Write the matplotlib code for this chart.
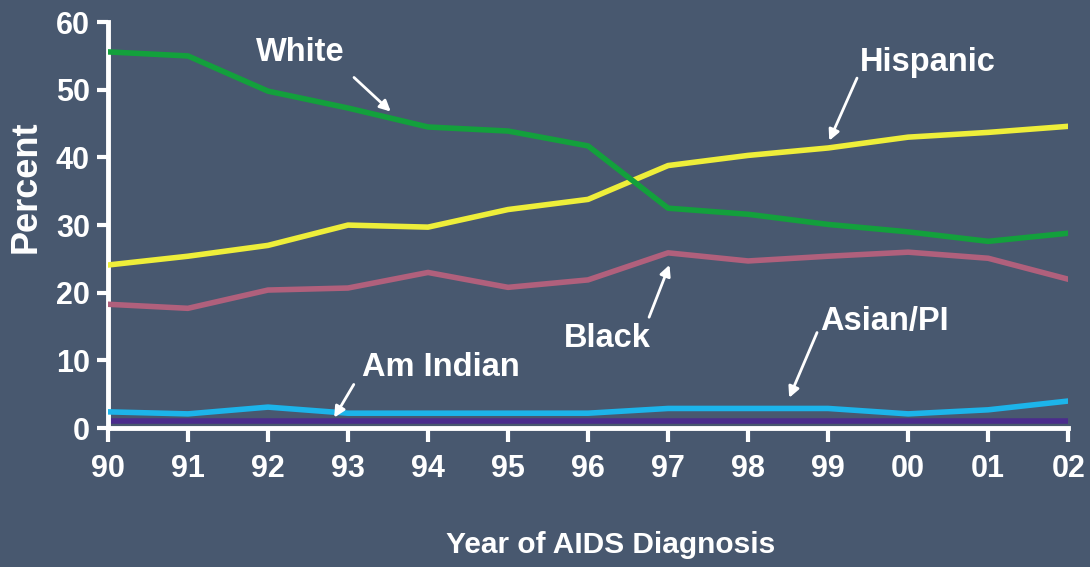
import matplotlib.pyplot as plt

years = ["90", "91", "92", "93", "94", "95", "96", "97", "98", "99", "00", "01", "02"]
white = [55.6, 55.0, 49.8, 47.3, 44.5, 43.9, 41.7, 32.5, 31.6, 30.1, 29.0, 27.6, 28.8]
hispanic = [24.1, 25.4, 27.0, 30.0, 29.7, 32.3, 33.8, 38.8, 40.3, 41.4, 43.0, 43.7, 44.6]
black = [18.3, 17.7, 20.4, 20.7, 23.0, 20.8, 21.9, 25.9, 24.7, 25.4, 26.0, 25.1, 22.0]
asian = [2.4, 2.1, 3.1, 2.2, 2.2, 2.2, 2.2, 2.9, 2.9, 2.9, 2.1, 2.7, 4.0]
am_indian = [1.0] * 13

bg = '#48586f'
plt.rcParams['font.family'] = ['Liberation Sans', 'DejaVu Sans']
plt.rcParams['font.weight'] = 'bold'

fig = plt.figure(figsize=(10.9, 5.67), dpi=100, facecolor=bg)
ax = fig.add_axes([0.099, 0.245, 0.881, 0.716], facecolor=bg)

x = list(range(len(years)))
ax.plot(x, am_indian, color='#4b2c8c', lw=4, solid_capstyle='butt', zorder=2)
ax.plot(x, asian, color='#1cb4ea', lw=4, zorder=3)
ax.plot(x, black, color='#b0607c', lw=4, zorder=3)
ax.plot(x, hispanic, color='#eeee3a', lw=4, zorder=3)
ax.plot(x, white, color='#13a03c', lw=4, zorder=3)

ax.set_xlim(0, 12)
ax.set_ylim(0, 60)
ax.set_xticks(x)
ax.set_xticklabels(years)
ax.set_yticks(range(0, 61, 10))

for s in ['top', 'right']:
    ax.spines[s].set_visible(False)
for s in ['left', 'bottom']:
    ax.spines[s].set_color('white')
    ax.spines[s].set_linewidth(3.5)
ax.tick_params(colors='white', width=3, length=8, labelsize=22, pad=5)
ax.tick_params(axis='x', length=10, pad=9)

fig.text(0.024, 0.67, "Percent", color='white', fontsize=26, fontweight='bold',
         rotation=90, ha='center', va='center')
fig.text(0.56, 0.039, "Year of AIDS Diagnosis", color='white', fontsize=21.5,
         fontweight='bold', ha='center', va='center')

arrow = dict(arrowstyle='-|>', color='white', lw=2, mutation_scale=16)
labels = [
    ("White", (2.4, 55.5), (3.05, 52.1), (3.56, 46.5)),
    ("Hispanic", (10.25, 54.1), (9.375, 52.1), (9.0, 42.1)),
    ("Black", (6.24, 13.3), (6.75, 16.0), (7.03, 24.5)),
    ("Am Indian", (4.16, 8.9), (3.09, 6.8), (2.81, 1.2)),
    ("Asian/PI", (9.71, 15.7), (8.875, 14.5), (8.5, 4.1)),
]
for name, tpos, start, end in labels:
    ax.text(tpos[0], tpos[1], name, color='white', fontsize=23.5, fontweight='bold',
            ha='center', va='center', zorder=5)
    ax.annotate("", xy=end, xytext=start, arrowprops=arrow, zorder=5)

fig.savefig("out.png", dpi=100, facecolor=bg)
